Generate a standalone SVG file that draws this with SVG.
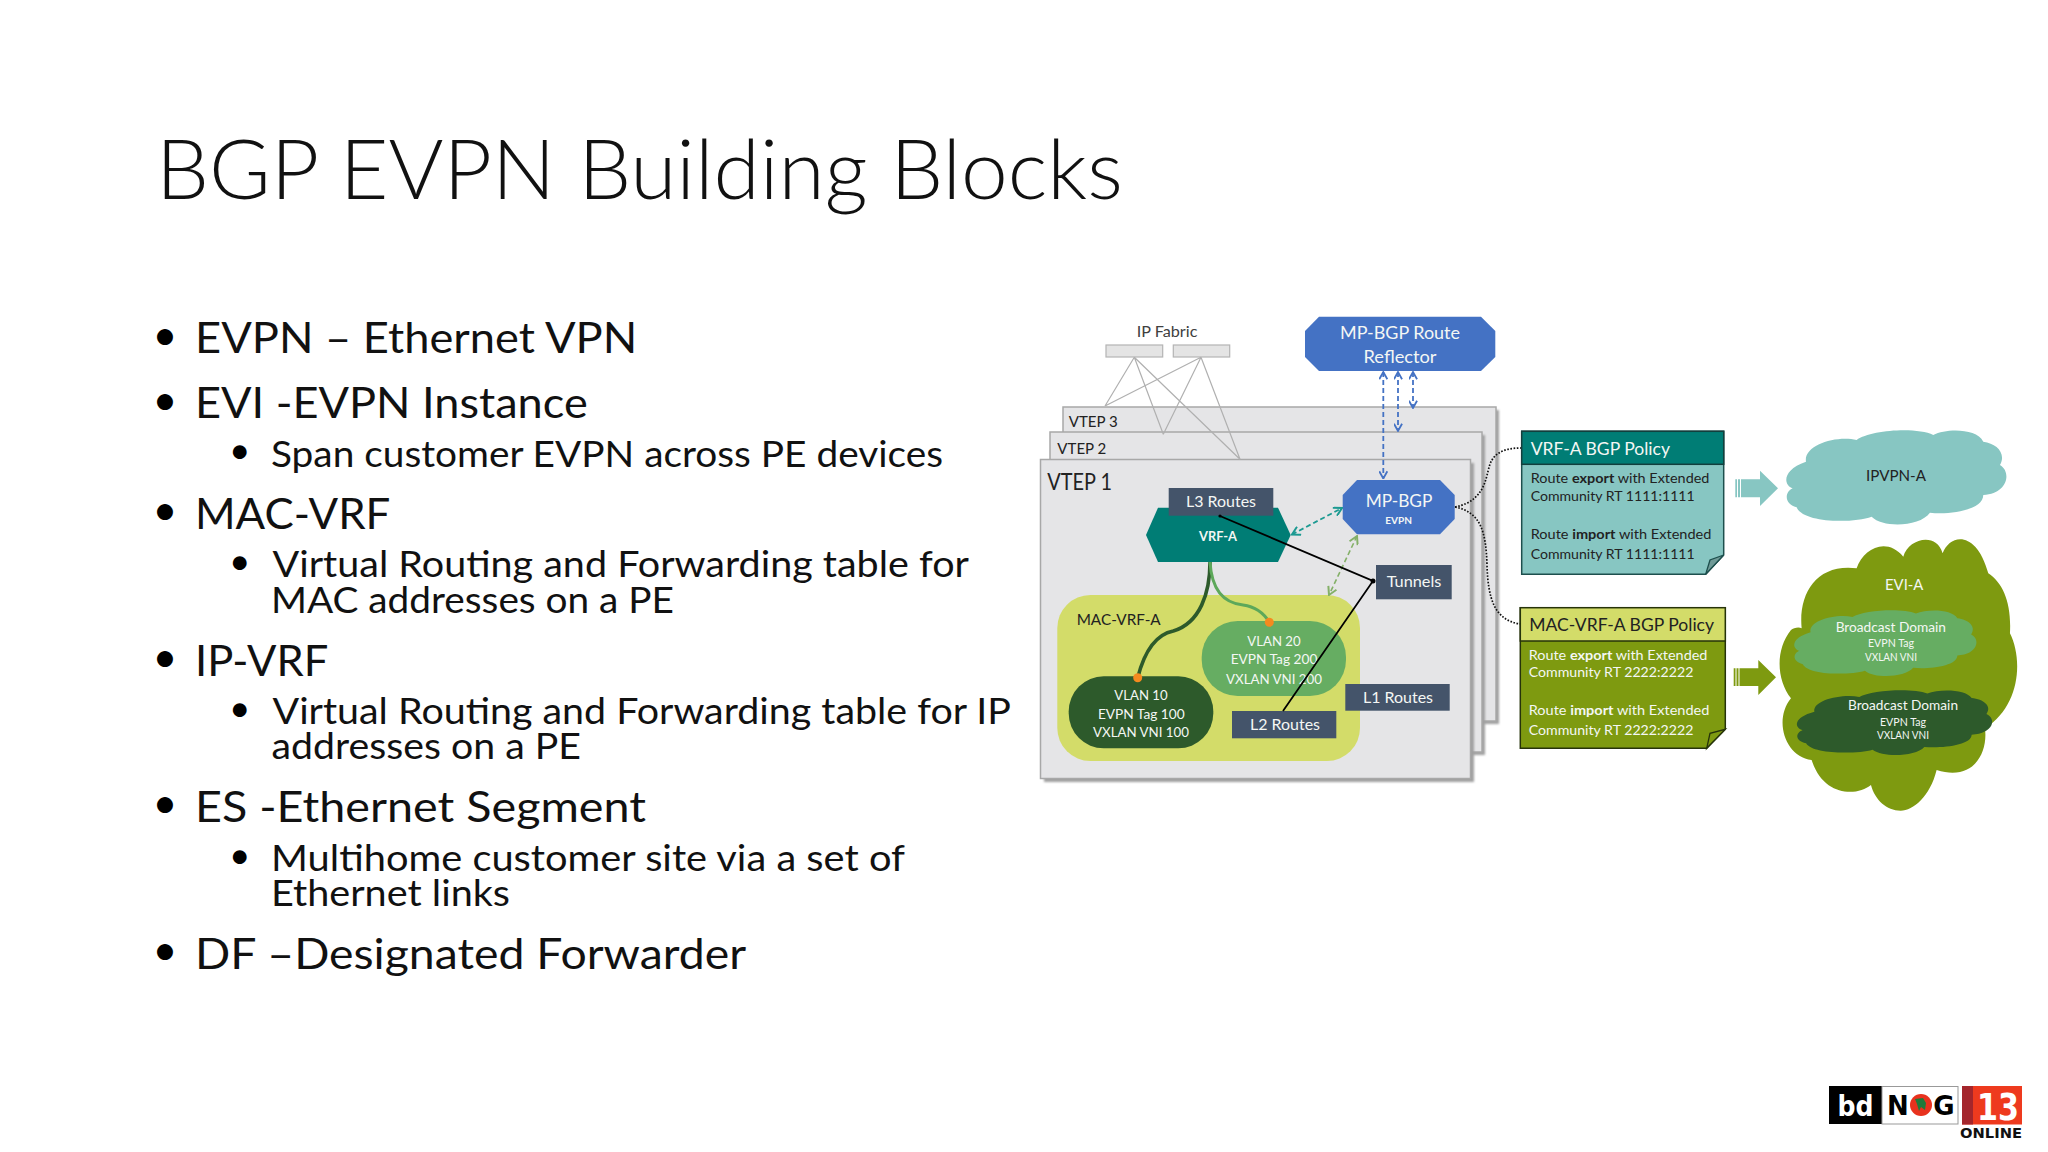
<svg xmlns="http://www.w3.org/2000/svg" xmlns:xlink="http://www.w3.org/1999/xlink" width="2048" height="1152" viewBox="0 0 2048 1152">
<style>
text{font-family:Lato,"Open Sans",sans-serif;}
.h{font-weight:300;fill:#111;font-size:82px;}
.b1{font-size:43px;fill:#111;}
.b2{font-size:37px;fill:#111;}
.u1{font-size:43px;fill:#000;}
.u2{font-size:37px;fill:#000;}
.w{fill:#f4f7f4;}
.k{fill:#222;}
.m{text-anchor:middle;}
.vt{fill:#e5e5e7;stroke:#a8a8a8;stroke-width:1.5;}
.sh{fill:#a0a0a0;filter:url(#soft);}
.rt{fill:#44546a;}
.oc{fill:#4472c4;}
.f{fill:#e4e4e4;stroke:#b4b4b4;stroke-width:1.2;}
.fl{stroke:#b0b0b0;stroke-width:1.2;fill:none;}
.bd{stroke:#4472c4;stroke-width:1.8;stroke-dasharray:5 3;fill:none;marker-start:url(#ab);marker-end:url(#ab);}
.dot{stroke:#111;stroke-width:1.7;stroke-dasharray:1.6 1.6;fill:none;}
.s13{font-size:13px;}
</style>
<defs>
<filter id="soft" x="-5%" y="-5%" width="110%" height="110%"><feGaussianBlur stdDeviation="1"/></filter>
<marker id="ab" viewBox="0 0 10 10" refX="9" refY="5" markerWidth="9" markerHeight="9" markerUnits="userSpaceOnUse" orient="auto-start-reverse"><path d="M1 0.5L9 5L1 9.5" fill="none" stroke="#4472c4" stroke-width="2"/></marker>
<marker id="at" viewBox="0 0 10 10" refX="9" refY="5" markerWidth="10" markerHeight="10" markerUnits="userSpaceOnUse" orient="auto-start-reverse"><path d="M1 0.5L9 5L1 9.5" fill="none" stroke="#1c9a92" stroke-width="2"/></marker>
<marker id="ag" viewBox="0 0 10 10" refX="9" refY="5" markerWidth="10" markerHeight="10" markerUnits="userSpaceOnUse" orient="auto-start-reverse"><path d="M1 0.5L9 5L1 9.5" fill="none" stroke="#84b068" stroke-width="2"/></marker>
<path id="cloud" d="M848 205C820 195 815 150 888 125C880 75 980 45 1040 60C1080 30 1220 20 1270 45C1310 25 1400 25 1420 65C1460 70 1490 100 1470 135C1505 155 1495 220 1420 225C1420 270 1320 285 1260 278C1230 320 1120 325 1085 290C1030 310 880 310 860 262C820 250 825 215 848 205Z"/>
</defs>
<rect width="2048" height="1152" fill="#fff"/>

<g id="title"><text class="h" x="156" y="198.5" textLength="967" lengthAdjust="spacingAndGlyphs">BGP EVPN Building Blocks</text></g>

<g id="bullets">
<text class="u1" x="152.5" y="350">•</text><text class="b1" x="195" y="353.3" textLength="442.3" lengthAdjust="spacingAndGlyphs">EVPN – Ethernet VPN</text>
<text class="u1" x="152.5" y="414.7">•</text><text class="b1" x="195" y="418.3" textLength="392.7" lengthAdjust="spacingAndGlyphs">EVI -EVPN Instance</text>
<text class="u2" x="229" y="463.2">•</text><text class="b2" x="271" y="466.7" textLength="672" lengthAdjust="spacingAndGlyphs">Span customer EVPN across PE devices</text>
<text class="u1" x="152.5" y="525.3">•</text><text class="b1" x="195" y="529.3" textLength="195.3" lengthAdjust="spacingAndGlyphs">MAC-VRF</text>
<text class="u2" x="229" y="573.8">•</text><text class="b2" x="272.5" y="577.3" textLength="696.5" lengthAdjust="spacingAndGlyphs">Virtual Routing and Forwarding table for</text>
<text class="b2" x="271" y="612.7" textLength="403" lengthAdjust="spacingAndGlyphs">MAC addresses on a PE</text>
<text class="u1" x="152.5" y="672.3">•</text><text class="b1" x="195" y="675.7" textLength="133.3" lengthAdjust="spacingAndGlyphs">IP-VRF</text>
<text class="u2" x="229" y="720.8">•</text><text class="b2" x="272.5" y="724" textLength="738.5" lengthAdjust="spacingAndGlyphs">Virtual Routing and Forwarding table for IP</text>
<text class="b2" x="271.5" y="759.3" textLength="309.5" lengthAdjust="spacingAndGlyphs">addresses on a PE</text>
<text class="u1" x="152.5" y="818.3">•</text><text class="b1" x="195" y="821.7" textLength="451" lengthAdjust="spacingAndGlyphs">ES -Ethernet Segment</text>
<text class="u2" x="229" y="867.8">•</text><text class="b2" x="271" y="870.7" textLength="634" lengthAdjust="spacingAndGlyphs">Multihome customer site via a set of</text>
<text class="b2" x="271" y="906" textLength="239" lengthAdjust="spacingAndGlyphs">Ethernet links</text>
<text class="u1" x="152.5" y="965">•</text><text class="b1" x="195" y="969" textLength="551" lengthAdjust="spacingAndGlyphs">DF –Designated Forwarder</text>
</g>

<g id="vtep3"><rect class="sh" x="1066" y="410" width="433" height="314"/><rect class="vt" x="1063" y="407" width="433" height="314"/><text x="1068.7" y="427" font-size="16" class="k" textLength="49" lengthAdjust="spacingAndGlyphs">VTEP 3</text></g>
<g id="vtep2"><rect class="sh" x="1053" y="435" width="432" height="320"/><rect class="vt" x="1050" y="432" width="432" height="320"/><text x="1057.3" y="454" font-size="16" class="k" textLength="49" lengthAdjust="spacingAndGlyphs">VTEP 2</text></g>
<g id="vtep1"><rect class="sh" x="1044" y="463" width="430" height="319"/><rect class="vt" x="1040.5" y="459.5" width="430" height="319"/><text x="1047.3" y="490" font-size="22.5" class="k" textLength="64.7" lengthAdjust="spacingAndGlyphs">VTEP 1</text></g>

<g id="ip-fabric"><text x="1136.7" y="337.3" font-size="15" fill="#404040" textLength="60.7" lengthAdjust="spacingAndGlyphs">IP Fabric</text><rect class="f" x="1106" y="345" width="56.7" height="12"/><rect class="f" x="1173.3" y="345" width="56.4" height="12"/></g>

<g id="route-reflector"><path class="oc" d="M1319 316.7H1481L1495.3 331V357L1481 371H1319L1305 357V331Z"/><text class="w m" x="1400" y="339.3" font-size="18" textLength="120" lengthAdjust="spacingAndGlyphs">MP-BGP Route</text><text class="w m" x="1400" y="363" font-size="18" textLength="73" lengthAdjust="spacingAndGlyphs">Reflector</text></g>

<g id="vrf-a"><path fill="#007d75" d="M1158 507.7H1278L1290.7 535L1278 562H1158L1146 535Z"/><text class="w m" x="1218" y="541" font-size="13" font-weight="700" textLength="38" lengthAdjust="spacingAndGlyphs">VRF-A</text></g>
<g id="l3-routes"><rect class="rt" x="1168.7" y="488" width="104.6" height="27.7"/><text class="w m" x="1221" y="507.3" font-size="16" textLength="70" lengthAdjust="spacingAndGlyphs">L3 Routes</text></g>
<g id="mp-bgp"><path class="oc" d="M1357 480H1440L1454.7 495V519L1440 534.3H1357L1342.7 519V495Z"/><text class="w m" x="1399" y="507.3" font-size="18" textLength="66.7" lengthAdjust="spacingAndGlyphs">MP-BGP</text><text class="w m" x="1398.7" y="524" font-size="10" font-weight="700" textLength="26.7" lengthAdjust="spacingAndGlyphs">EVPN</text></g>
<g id="tunnels"><rect class="rt" x="1376" y="565" width="75.7" height="34.3"/><text class="w m" x="1414" y="586.7" font-size="16" textLength="54.7" lengthAdjust="spacingAndGlyphs">Tunnels</text></g>
<g id="mac-vrf-a"><rect fill="#d3dc69" x="1057.3" y="595" width="302.7" height="166" rx="33"/><text x="1076.7" y="625.3" font-size="15" class="k" textLength="84" lengthAdjust="spacingAndGlyphs">MAC-VRF-A</text></g>
<g id="l1-routes"><rect class="rt" x="1345.3" y="684" width="104.4" height="26.7"/><text class="w m" x="1398" y="703.3" font-size="16" textLength="70" lengthAdjust="spacingAndGlyphs">L1 Routes</text></g>
<g id="l2-routes"><rect class="rt" x="1232" y="711" width="104.3" height="27.3"/><text class="w m" x="1285" y="730" font-size="16" textLength="70" lengthAdjust="spacingAndGlyphs">L2 Routes</text></g>
<g id="vlan-20"><rect fill="#66ad62" x="1201.7" y="621" width="144.3" height="75" rx="36"/><text class="w m" x="1274" y="646.3" font-size="14" textLength="53.3" lengthAdjust="spacingAndGlyphs">VLAN 20</text><text class="w m" x="1274" y="664.3" font-size="14" textLength="86.7" lengthAdjust="spacingAndGlyphs">EVPN Tag 200</text><text class="w m" x="1274" y="684" font-size="14" textLength="96" lengthAdjust="spacingAndGlyphs">VXLAN VNI 200</text></g>
<g id="vlan-10"><rect fill="#2d5a2b" x="1068.7" y="676.3" width="144.6" height="72" rx="35"/><text class="w m" x="1141" y="700.3" font-size="14" textLength="53.3" lengthAdjust="spacingAndGlyphs">VLAN 10</text><text class="w m" x="1141.3" y="718.7" font-size="14" textLength="86.7" lengthAdjust="spacingAndGlyphs">EVPN Tag 100</text><text class="w m" x="1141" y="737.3" font-size="14" textLength="96" lengthAdjust="spacingAndGlyphs">VXLAN VNI 100</text></g>

<g id="vrf-policy">
<path d="M1521.7 431.3H1723.7V555L1705.7 574.3H1521.7Z" fill="#87c6c2" stroke="#1d4f4d" stroke-width="1.5"/>
<path d="M1723.7 555L1705.7 574.3L1710 560Z" fill="#6f9a97" stroke="#1d4f4d" stroke-width="1.3"/>
<rect x="1521.7" y="431.3" width="202" height="33" fill="#007d75" stroke="#123f3d" stroke-width="1.5"/>
<text x="1530.7" y="454.7" font-size="18" class="w" textLength="139.3" lengthAdjust="spacingAndGlyphs">VRF-A BGP Policy</text>
<text x="1530.7" y="483.3" class="s13 k" textLength="178.7" lengthAdjust="spacingAndGlyphs">Route <tspan font-weight="700">export</tspan> with Extended</text>
<text x="1530.7" y="501.3" class="s13 k" textLength="164" lengthAdjust="spacingAndGlyphs">Community RT 1111:1111</text>
<text x="1530.7" y="539.3" class="s13 k" textLength="180.7" lengthAdjust="spacingAndGlyphs">Route <tspan font-weight="700">import</tspan> with Extended</text>
<text x="1530.7" y="558.7" class="s13 k" textLength="164" lengthAdjust="spacingAndGlyphs">Community RT 1111:1111</text>
</g>
<g id="mac-vrf-policy">
<path d="M1520.3 607.7H1725.3V729.3L1706.7 748.3H1520.3Z" fill="#7e9a10" stroke="#26330a" stroke-width="1.5"/>
<path d="M1725.3 729.3L1706.7 748.3L1710 733.3Z" fill="#7e9a10" stroke="#26330a" stroke-width="1.3"/>
<rect x="1520.3" y="607.7" width="205" height="33.3" fill="#d3dc69" stroke="#26330a" stroke-width="1.5"/>
<text x="1529.3" y="631.3" font-size="18" class="k" textLength="184.7" lengthAdjust="spacingAndGlyphs">MAC-VRF-A BGP Policy</text>
<text x="1528.7" y="660" class="s13 w" textLength="178.7" lengthAdjust="spacingAndGlyphs">Route <tspan font-weight="700">export</tspan> with Extended</text>
<text x="1528.7" y="677.3" class="s13 w" textLength="164.7" lengthAdjust="spacingAndGlyphs">Community RT 2222:2222</text>
<text x="1528.7" y="715" class="s13 w" textLength="180.7" lengthAdjust="spacingAndGlyphs">Route <tspan font-weight="700">import</tspan> with Extended</text>
<text x="1528.7" y="735" class="s13 w" textLength="164.7" lengthAdjust="spacingAndGlyphs">Community RT 2222:2222</text>
</g>

<g id="arrow-ipvpn"><path fill="#87c6c2" d="M1735.3 479.3H1760V470.7L1778 488.3L1760 506V497.3H1735.3Z"/><path d="M1737.5 479V498M1740.5 479V498" stroke="#fff" stroke-width="1"/></g>
<g id="arrow-evi"><path fill="#7e9a10" d="M1733.7 668.3H1758.3V660L1776 677.3L1758.3 695V686H1733.7Z"/><path d="M1736 668V687M1739 668V687" stroke="#fff" stroke-width="1"/></g>

<g id="ipvpn-a"><use xlink:href="#cloud" href="#cloud" fill="#87c6c2" transform="translate(1510 420) scale(.3333)"/><text class="m k" x="1896" y="480.7" font-size="16" textLength="60" lengthAdjust="spacingAndGlyphs">IPVPN-A</text></g>
<g id="evi-a"><path fill="#7e9a10" transform="translate(1510 420) scale(.3333)" d="M1040 445C1060 385 1130 350 1180 410C1195 355 1280 335 1298 400C1320 340 1400 330 1435 460C1480 490 1505 550 1500 640C1540 720 1530 860 1425 925C1435 1000 1390 1085 1280 1050C1260 1130 1210 1172 1172 1172C1130 1172 1095 1140 1083 1095C1040 1130 940 1130 905 1020C825 1010 790 900 843 835C800 780 795 690 843 630C850 625 865 620 875 625C865 520 920 430 1040 445Z"/><text class="m w" x="1904.2" y="590" font-size="15" textLength="38.3" lengthAdjust="spacingAndGlyphs">EVI-A</text></g>
<g id="bd-1"><use xlink:href="#cloud" href="#cloud" fill="#66ad62" transform="translate(1510 600) scale(.3333) translate(852 30) scale(.828 .70) translate(-828 -30)"/><text class="m w" x="1890.8" y="631.7" font-size="13.5" textLength="110.3" lengthAdjust="spacingAndGlyphs">Broadcast Domain</text><text class="m w" x="1891" y="647.3" font-size="10.5" textLength="46" lengthAdjust="spacingAndGlyphs">EVPN Tag</text><text class="m w" x="1891" y="661.3" font-size="10.5" textLength="52" lengthAdjust="spacingAndGlyphs">VXLAN VNI</text></g>
<g id="bd-2"><use xlink:href="#cloud" href="#cloud" fill="#2d5a2b" transform="translate(1510 600) scale(.3333) translate(860 270) scale(.887 .689) translate(-828 -30)"/><text class="m w" x="1903" y="710" font-size="13.5" textLength="110" lengthAdjust="spacingAndGlyphs">Broadcast Domain</text><text class="m w" x="1903" y="726" font-size="10.5" textLength="46" lengthAdjust="spacingAndGlyphs">EVPN Tag</text><text class="m w" x="1903" y="739.3" font-size="10.5" textLength="52" lengthAdjust="spacingAndGlyphs">VXLAN VNI</text></g>

<g id="connectors">
<path class="fl" d="M1134.3 357.3L1105 406M1134.3 357.3L1163.3 434.3M1134.3 357.3L1240 459.3M1201 357.3L1105 406M1201 357.3L1163.3 434.3M1201 357.3L1240 459.3"/>
<path class="bd" d="M1383.3 372V478.5"/>
<path class="bd" d="M1398 372V431"/>
<path class="bd" d="M1413 372V408"/>
<path d="M1292 534.5L1342 508" fill="none" stroke="#1c9a92" stroke-width="1.8" stroke-dasharray="5 3" marker-start="url(#at)" marker-end="url(#at)"/>
<path d="M1357 536L1329 595" fill="none" stroke="#84b068" stroke-width="1.6" stroke-dasharray="5 3" marker-start="url(#ag)" marker-end="url(#ag)"/>
<path d="M1220 516L1373 581L1283 711" fill="none" stroke="#000" stroke-width="1.8"/>
<circle cx="1373" cy="581" r="2.5" fill="#000"/>
<circle cx="1220" cy="516" r="1.6" fill="#000"/>
<path class="dot" d="M1455 507C1490 500 1485 470 1492 460C1498 450 1510 448 1521 448"/>
<path class="dot" d="M1455 507C1480 512 1486 530 1487 565C1488 600 1495 620 1520 624"/>
<path d="M1210 562C1210 593 1200 623 1173.3 631C1153 635 1143 657 1137.7 677.7" fill="none" stroke="#2d5a2b" stroke-width="3.6"/>
<path d="M1210 562C1211.7 590 1223 603 1243 605C1257 607 1265 615 1269.3 622.3" fill="none" stroke="#5da85a" stroke-width="3"/>
<circle cx="1269.3" cy="622.3" r="4.5" fill="#f58a1f"/>
<circle cx="1137.7" cy="677.7" r="4.5" fill="#f58a1f"/>
</g>

<g id="logo">
<rect x="1829" y="1086" width="53" height="38" fill="#000"/>
<rect x="1882" y="1086.5" width="76" height="37.5" fill="#fff" stroke="#999" stroke-width="1"/>
<text x="1855.5" y="1116" text-anchor="middle" style="font-family:'DejaVu Sans',sans-serif" font-weight="700" font-size="29" fill="#fff" textLength="36" lengthAdjust="spacingAndGlyphs">bd</text>
<text x="1898" y="1115" text-anchor="middle" style="font-family:'DejaVu Sans',sans-serif" font-weight="700" font-size="26" fill="#000">N</text>
<circle cx="1921" cy="1105" r="11" fill="#e8321e"/>
<path d="M1915 1099L1923 1098L1926 1103L1925 1110L1921 1107L1919 1111L1917 1104Z" fill="#1f7a3a"/>
<text x="1944" y="1115" text-anchor="middle" style="font-family:'DejaVu Sans',sans-serif" font-weight="700" font-size="26" fill="#000">G</text>
<rect x="1962" y="1086" width="60" height="38.5" fill="#ee3a1e"/>
<rect x="1962" y="1086" width="11" height="38.5" fill="#a4262c"/>
<text x="1998" y="1120" text-anchor="middle" style="font-family:'DejaVu Sans',sans-serif" font-weight="700" font-size="37" fill="#fff" textLength="42" lengthAdjust="spacingAndGlyphs">13</text>
<text x="1960" y="1138" style="font-family:'DejaVu Sans',sans-serif" font-weight="700" font-size="14" fill="#111" textLength="62" lengthAdjust="spacingAndGlyphs">ONLINE</text>
</g>
</svg>
